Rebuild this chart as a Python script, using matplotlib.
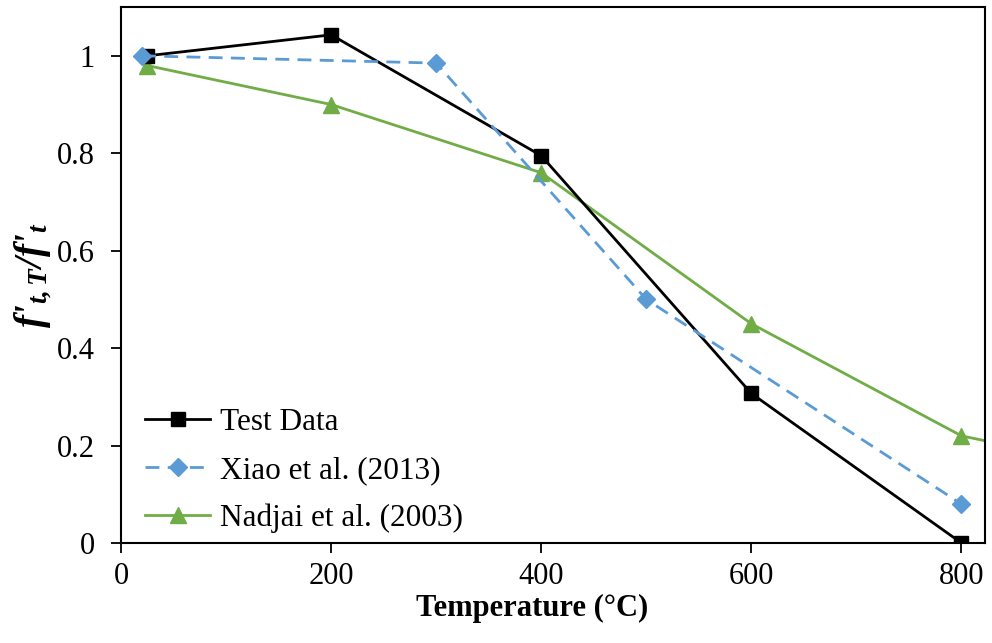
import matplotlib
matplotlib.use('Agg')
import matplotlib.pyplot as plt

# tensile strength ratio vs temperature
test_T = [25, 200, 400, 600, 800]
test_f = [1.0, 1.043, 0.795, 0.307, 0.0]

xiao_T = [20, 300, 500, 800]
xiao_f = [1.0, 0.985, 0.5, 0.08]

nadjai_T = [25, 200, 400, 600, 800, 1000]
nadjai_f = [0.98, 0.9, 0.76, 0.45, 0.22, 0.13]

xticks = [0, 200, 400, 600, 800]
yticks = [0, 0.2, 0.4, 0.6, 0.8, 1.0]
ytick_labels = ['0', '0.2', '0.4', '0.6', '0.8', '1']

plt.rcParams['font.family'] = 'Liberation Serif'
plt.rcParams['mathtext.fontset'] = 'custom'
plt.rcParams['mathtext.it'] = 'Liberation Serif:italic:bold'
plt.rcParams['mathtext.rm'] = 'Liberation Serif:italic:bold'

fig = plt.figure(figsize=(9.92, 6.43), dpi=100)
ax = fig.add_axes([0.122, 0.1555, 0.8705, 0.8335])

ax.plot(test_T, test_f, '-', color='black', lw=2, marker='s', ms=10,
        label='Test Data', zorder=3)
ax.plot(xiao_T, xiao_f, '--', color='#5B9BD5', lw=2, marker='D', ms=9,
        dashes=(5, 3), label='Xiao et al. (2013)', zorder=4)
ax.plot(nadjai_T, nadjai_f, '-', color='#70AD47', lw=2, marker='^', ms=11,
        label='Nadjai et al. (2003)', zorder=2)

ax.set_xlim(0, 822)
ax.set_ylim(0, 1.1)
ax.set_xticks(xticks)
ax.set_yticks(yticks)
ax.set_yticklabels(ytick_labels)
ax.tick_params(direction='out', length=7, width=1.3, labelsize=22)
ax.tick_params(axis='x', pad=7)
ax.tick_params(axis='y', pad=12)
for s in ax.spines.values():
    s.set_linewidth(1.5)

ax.set_xlabel('Temperature (°C)', fontsize=22, fontweight='bold')
ax.xaxis.set_label_coords(0.476, -0.095)
ax.set_ylabel(r"$f\text{'}_{t,T}/f\text{'}_{t}$", fontsize=28)
ax.yaxis.set_label_coords(-0.078, 0.5)

ax.legend(loc='lower left', bbox_to_anchor=(-0.005, -0.034), frameon=False,
          fontsize=22.5, handlelength=2.1, handletextpad=0.3, labelspacing=0.6)

fig.savefig('out.png', dpi=100)
